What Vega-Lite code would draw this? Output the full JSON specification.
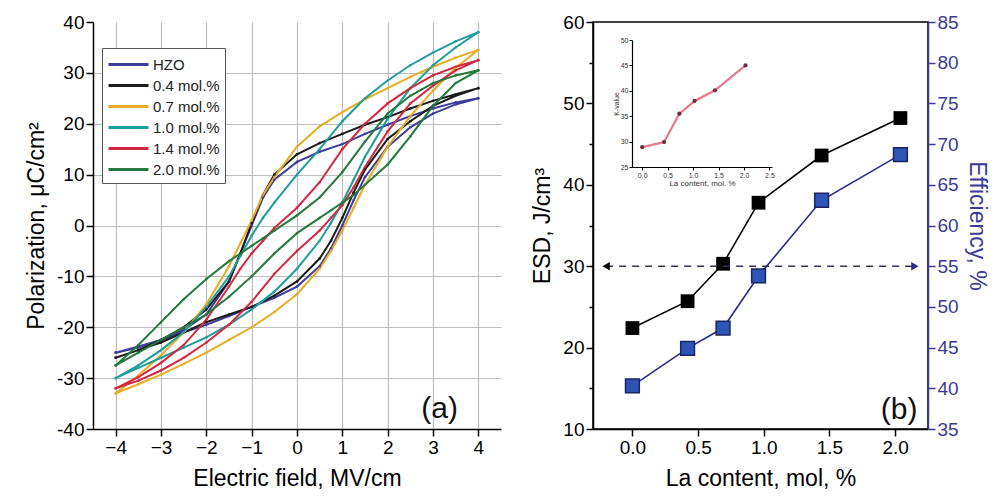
{
"$schema": "https://vega.github.io/schema/vega-lite/v6.json",
"padding": {"left": 25, "top": 12, "right": 2, "bottom": 2},
"spacing": 30,
"config": {
  "font": "Liberation Sans",
  "view": {"stroke": null},
  "axis": {"domainColor": "black", "domainWidth": 1.5, "tickColor": "black", "tickWidth": 1.5, "labelColor": "black", "labelFontSize": 19, "titleFontSize": 23, "titleFontWeight": "normal", "titleColor": "black", "labelPadding": 2, "grid": false, "labelFont": "Liberation Sans", "titleFont": "Liberation Sans"}
},
"datasets": {
"loops": [
{"s":"HZO","o":0,"E":-4,"P":-25},{"s":"HZO","o":1,"E":-3.5,"P":-23.8},{"s":"HZO","o":2,"E":-3,"P":-22.5},{"s":"HZO","o":3,"E":-2.5,"P":-21},{"s":"HZO","o":4,"E":-2,"P":-19.5},{"s":"HZO","o":5,"E":-1.5,"P":-17.8},{"s":"HZO","o":6,"E":-1,"P":-16},{"s":"HZO","o":7,"E":-0.5,"P":-14.2},{"s":"HZO","o":8,"E":0,"P":-12},{"s":"HZO","o":9,"E":0.5,"P":-8},{"s":"HZO","o":10,"E":0.75,"P":-4.5},{"s":"HZO","o":11,"E":1,"P":0},{"s":"HZO","o":12,"E":1.25,"P":5},{"s":"HZO","o":13,"E":1.5,"P":9.5},{"s":"HZO","o":14,"E":2,"P":15.5},{"s":"HZO","o":15,"E":2.5,"P":19.3},{"s":"HZO","o":16,"E":3,"P":22},{"s":"HZO","o":17,"E":3.5,"P":23.8},{"s":"HZO","o":18,"E":4,"P":25},
{"s":"HZO","o":19,"E":4,"P":25},{"s":"HZO","o":20,"E":3.5,"P":24.2},{"s":"HZO","o":21,"E":3,"P":23},{"s":"HZO","o":22,"E":2.5,"P":21.5},{"s":"HZO","o":23,"E":2,"P":19.8},{"s":"HZO","o":24,"E":1.5,"P":18},{"s":"HZO","o":25,"E":1,"P":16},{"s":"HZO","o":26,"E":0.5,"P":14.5},{"s":"HZO","o":27,"E":0,"P":12.5},{"s":"HZO","o":28,"E":-0.5,"P":9},{"s":"HZO","o":29,"E":-0.75,"P":5.5},{"s":"HZO","o":30,"E":-1,"P":0},{"s":"HZO","o":31,"E":-1.25,"P":-5.5},{"s":"HZO","o":32,"E":-1.5,"P":-11},{"s":"HZO","o":33,"E":-2,"P":-17.5},{"s":"HZO","o":34,"E":-2.5,"P":-20.5},{"s":"HZO","o":35,"E":-3,"P":-22.5},{"s":"HZO","o":36,"E":-3.5,"P":-24},{"s":"HZO","o":37,"E":-4,"P":-25},
{"s":"0.4 mol.%","o":0,"E":-4,"P":-26},{"s":"0.4 mol.%","o":1,"E":-3.5,"P":-24.5},{"s":"0.4 mol.%","o":2,"E":-3,"P":-23},{"s":"0.4 mol.%","o":3,"E":-2.5,"P":-21},{"s":"0.4 mol.%","o":4,"E":-2,"P":-19},{"s":"0.4 mol.%","o":5,"E":-1.5,"P":-17.5},{"s":"0.4 mol.%","o":6,"E":-1,"P":-16},{"s":"0.4 mol.%","o":7,"E":-0.5,"P":-13.8},{"s":"0.4 mol.%","o":8,"E":0,"P":-11},{"s":"0.4 mol.%","o":9,"E":0.5,"P":-6.5},{"s":"0.4 mol.%","o":10,"E":0.75,"P":-3},{"s":"0.4 mol.%","o":11,"E":1,"P":1.5},{"s":"0.4 mol.%","o":12,"E":1.25,"P":6.5},{"s":"0.4 mol.%","o":13,"E":1.5,"P":11},{"s":"0.4 mol.%","o":14,"E":2,"P":17},{"s":"0.4 mol.%","o":15,"E":2.5,"P":20.5},{"s":"0.4 mol.%","o":16,"E":3,"P":23.5},{"s":"0.4 mol.%","o":17,"E":3.5,"P":25.5},{"s":"0.4 mol.%","o":18,"E":4,"P":27},
{"s":"0.4 mol.%","o":19,"E":4,"P":27},{"s":"0.4 mol.%","o":20,"E":3.5,"P":25.8},{"s":"0.4 mol.%","o":21,"E":3,"P":24.5},{"s":"0.4 mol.%","o":22,"E":2.5,"P":23},{"s":"0.4 mol.%","o":23,"E":2,"P":21.3},{"s":"0.4 mol.%","o":24,"E":1.5,"P":19.8},{"s":"0.4 mol.%","o":25,"E":1,"P":18},{"s":"0.4 mol.%","o":26,"E":0.5,"P":16.2},{"s":"0.4 mol.%","o":27,"E":0,"P":14},{"s":"0.4 mol.%","o":28,"E":-0.5,"P":10},{"s":"0.4 mol.%","o":29,"E":-0.75,"P":6},{"s":"0.4 mol.%","o":30,"E":-1,"P":0.5},{"s":"0.4 mol.%","o":31,"E":-1.25,"P":-5.5},{"s":"0.4 mol.%","o":32,"E":-1.5,"P":-11},{"s":"0.4 mol.%","o":33,"E":-2,"P":-16.5},{"s":"0.4 mol.%","o":34,"E":-2.5,"P":-20},{"s":"0.4 mol.%","o":35,"E":-3,"P":-22.5},{"s":"0.4 mol.%","o":36,"E":-3.5,"P":-24.5},{"s":"0.4 mol.%","o":37,"E":-4,"P":-26},
{"s":"0.7 mol.%","o":0,"E":-4,"P":-33},{"s":"0.7 mol.%","o":1,"E":-3.5,"P":-31.2},{"s":"0.7 mol.%","o":2,"E":-3,"P":-29.3},{"s":"0.7 mol.%","o":3,"E":-2.5,"P":-27.2},{"s":"0.7 mol.%","o":4,"E":-2,"P":-25},{"s":"0.7 mol.%","o":5,"E":-1.5,"P":-22.5},{"s":"0.7 mol.%","o":6,"E":-1,"P":-20},{"s":"0.7 mol.%","o":7,"E":-0.5,"P":-17},{"s":"0.7 mol.%","o":8,"E":0,"P":-13.5},{"s":"0.7 mol.%","o":9,"E":0.5,"P":-8.5},{"s":"0.7 mol.%","o":10,"E":0.75,"P":-5},{"s":"0.7 mol.%","o":11,"E":1,"P":-1},{"s":"0.7 mol.%","o":12,"E":1.25,"P":3.5},{"s":"0.7 mol.%","o":13,"E":1.5,"P":8},{"s":"0.7 mol.%","o":14,"E":2,"P":15.5},{"s":"0.7 mol.%","o":15,"E":2.5,"P":21.5},{"s":"0.7 mol.%","o":16,"E":3,"P":26.5},{"s":"0.7 mol.%","o":17,"E":3.5,"P":31},{"s":"0.7 mol.%","o":18,"E":4,"P":34.5},
{"s":"0.7 mol.%","o":19,"E":4,"P":34.5},{"s":"0.7 mol.%","o":20,"E":3.5,"P":33},{"s":"0.7 mol.%","o":21,"E":3,"P":31.2},{"s":"0.7 mol.%","o":22,"E":2.5,"P":29.2},{"s":"0.7 mol.%","o":23,"E":2,"P":27},{"s":"0.7 mol.%","o":24,"E":1.5,"P":24.8},{"s":"0.7 mol.%","o":25,"E":1,"P":22.3},{"s":"0.7 mol.%","o":26,"E":0.5,"P":19.5},{"s":"0.7 mol.%","o":27,"E":0,"P":15.5},{"s":"0.7 mol.%","o":28,"E":-0.5,"P":9.5},{"s":"0.7 mol.%","o":29,"E":-0.75,"P":6},{"s":"0.7 mol.%","o":30,"E":-1,"P":1},{"s":"0.7 mol.%","o":31,"E":-1.25,"P":-3.5},{"s":"0.7 mol.%","o":32,"E":-1.5,"P":-8},{"s":"0.7 mol.%","o":33,"E":-2,"P":-15.5},{"s":"0.7 mol.%","o":34,"E":-2.5,"P":-21},{"s":"0.7 mol.%","o":35,"E":-3,"P":-25.5},{"s":"0.7 mol.%","o":36,"E":-3.5,"P":-29.5},{"s":"0.7 mol.%","o":37,"E":-4,"P":-33},
{"s":"1.0 mol.%","o":0,"E":-4,"P":-30},{"s":"1.0 mol.%","o":1,"E":-3.5,"P":-28},{"s":"1.0 mol.%","o":2,"E":-3,"P":-26},{"s":"1.0 mol.%","o":3,"E":-2.5,"P":-24},{"s":"1.0 mol.%","o":4,"E":-2,"P":-22},{"s":"1.0 mol.%","o":5,"E":-1.5,"P":-19.5},{"s":"1.0 mol.%","o":6,"E":-1,"P":-16.5},{"s":"1.0 mol.%","o":7,"E":-0.5,"P":-13},{"s":"1.0 mol.%","o":8,"E":0,"P":-8.5},{"s":"1.0 mol.%","o":9,"E":0.5,"P":-3},{"s":"1.0 mol.%","o":10,"E":0.75,"P":0.5},{"s":"1.0 mol.%","o":11,"E":1,"P":4.5},{"s":"1.0 mol.%","o":12,"E":1.25,"P":9},{"s":"1.0 mol.%","o":13,"E":1.5,"P":13.5},{"s":"1.0 mol.%","o":14,"E":2,"P":21},{"s":"1.0 mol.%","o":15,"E":2.5,"P":27},{"s":"1.0 mol.%","o":16,"E":3,"P":31.5},{"s":"1.0 mol.%","o":17,"E":3.5,"P":35},{"s":"1.0 mol.%","o":18,"E":4,"P":38},
{"s":"1.0 mol.%","o":19,"E":4,"P":38},{"s":"1.0 mol.%","o":20,"E":3.5,"P":36.2},{"s":"1.0 mol.%","o":21,"E":3,"P":34},{"s":"1.0 mol.%","o":22,"E":2.5,"P":31.5},{"s":"1.0 mol.%","o":23,"E":2,"P":28.5},{"s":"1.0 mol.%","o":24,"E":1.5,"P":25},{"s":"1.0 mol.%","o":25,"E":1,"P":20.5},{"s":"1.0 mol.%","o":26,"E":0.5,"P":15},{"s":"1.0 mol.%","o":27,"E":0,"P":10},{"s":"1.0 mol.%","o":28,"E":-0.5,"P":4.5},{"s":"1.0 mol.%","o":29,"E":-0.75,"P":1.5},{"s":"1.0 mol.%","o":30,"E":-1,"P":-2},{"s":"1.0 mol.%","o":31,"E":-1.25,"P":-6},{"s":"1.0 mol.%","o":32,"E":-1.5,"P":-10},{"s":"1.0 mol.%","o":33,"E":-2,"P":-16},{"s":"1.0 mol.%","o":34,"E":-2.5,"P":-21},{"s":"1.0 mol.%","o":35,"E":-3,"P":-24.5},{"s":"1.0 mol.%","o":36,"E":-3.5,"P":-27.5},{"s":"1.0 mol.%","o":37,"E":-4,"P":-30},
{"s":"1.4 mol.%","o":0,"E":-4,"P":-32},{"s":"1.4 mol.%","o":1,"E":-3.5,"P":-30.5},{"s":"1.4 mol.%","o":2,"E":-3,"P":-28.5},{"s":"1.4 mol.%","o":3,"E":-2.5,"P":-26},{"s":"1.4 mol.%","o":4,"E":-2,"P":-23},{"s":"1.4 mol.%","o":5,"E":-1.5,"P":-19.5},{"s":"1.4 mol.%","o":6,"E":-1,"P":-15},{"s":"1.4 mol.%","o":7,"E":-0.5,"P":-9.5},{"s":"1.4 mol.%","o":8,"E":0,"P":-5},{"s":"1.4 mol.%","o":9,"E":0.5,"P":-1},{"s":"1.4 mol.%","o":10,"E":0.75,"P":1.5},{"s":"1.4 mol.%","o":11,"E":1,"P":4},{"s":"1.4 mol.%","o":12,"E":1.25,"P":7.5},{"s":"1.4 mol.%","o":13,"E":1.5,"P":11.5},{"s":"1.4 mol.%","o":14,"E":2,"P":18.5},{"s":"1.4 mol.%","o":15,"E":2.5,"P":24},{"s":"1.4 mol.%","o":16,"E":3,"P":27.5},{"s":"1.4 mol.%","o":17,"E":3.5,"P":30.5},{"s":"1.4 mol.%","o":18,"E":4,"P":32.5},
{"s":"1.4 mol.%","o":19,"E":4,"P":32.5},{"s":"1.4 mol.%","o":20,"E":3.5,"P":31.2},{"s":"1.4 mol.%","o":21,"E":3,"P":29.5},{"s":"1.4 mol.%","o":22,"E":2.5,"P":27},{"s":"1.4 mol.%","o":23,"E":2,"P":24},{"s":"1.4 mol.%","o":24,"E":1.5,"P":20},{"s":"1.4 mol.%","o":25,"E":1,"P":15},{"s":"1.4 mol.%","o":26,"E":0.5,"P":8.5},{"s":"1.4 mol.%","o":27,"E":0,"P":3.5},{"s":"1.4 mol.%","o":28,"E":-0.5,"P":-0.5},{"s":"1.4 mol.%","o":29,"E":-0.75,"P":-3},{"s":"1.4 mol.%","o":30,"E":-1,"P":-5.5},{"s":"1.4 mol.%","o":31,"E":-1.25,"P":-8.5},{"s":"1.4 mol.%","o":32,"E":-1.5,"P":-12},{"s":"1.4 mol.%","o":33,"E":-2,"P":-18.5},{"s":"1.4 mol.%","o":34,"E":-2.5,"P":-23.5},{"s":"1.4 mol.%","o":35,"E":-3,"P":-27},{"s":"1.4 mol.%","o":36,"E":-3.5,"P":-29.8},{"s":"1.4 mol.%","o":37,"E":-4,"P":-32},
{"s":"2.0 mol.%","o":0,"E":-4,"P":-27.5},{"s":"2.0 mol.%","o":1,"E":-3.5,"P":-25},{"s":"2.0 mol.%","o":2,"E":-3,"P":-22.5},{"s":"2.0 mol.%","o":3,"E":-2.5,"P":-20},{"s":"2.0 mol.%","o":4,"E":-2,"P":-17.5},{"s":"2.0 mol.%","o":5,"E":-1.5,"P":-14},{"s":"2.0 mol.%","o":6,"E":-1,"P":-10},{"s":"2.0 mol.%","o":7,"E":-0.5,"P":-5.5},{"s":"2.0 mol.%","o":8,"E":0,"P":-1.5},{"s":"2.0 mol.%","o":9,"E":0.5,"P":1.5},{"s":"2.0 mol.%","o":10,"E":0.75,"P":3},{"s":"2.0 mol.%","o":11,"E":1,"P":4.5},{"s":"2.0 mol.%","o":12,"E":1.25,"P":6},{"s":"2.0 mol.%","o":13,"E":1.5,"P":8},{"s":"2.0 mol.%","o":14,"E":2,"P":12},{"s":"2.0 mol.%","o":15,"E":2.5,"P":17.5},{"s":"2.0 mol.%","o":16,"E":3,"P":23.5},{"s":"2.0 mol.%","o":17,"E":3.5,"P":28},{"s":"2.0 mol.%","o":18,"E":4,"P":30.5},
{"s":"2.0 mol.%","o":19,"E":4,"P":30.5},{"s":"2.0 mol.%","o":20,"E":3.5,"P":29.5},{"s":"2.0 mol.%","o":21,"E":3,"P":28},{"s":"2.0 mol.%","o":22,"E":2.5,"P":25.5},{"s":"2.0 mol.%","o":23,"E":2,"P":22},{"s":"2.0 mol.%","o":24,"E":1.5,"P":16.5},{"s":"2.0 mol.%","o":25,"E":1,"P":10.5},{"s":"2.0 mol.%","o":26,"E":0.5,"P":5.5},{"s":"2.0 mol.%","o":27,"E":0,"P":2},{"s":"2.0 mol.%","o":28,"E":-0.5,"P":-1},{"s":"2.0 mol.%","o":29,"E":-0.75,"P":-2.5},{"s":"2.0 mol.%","o":30,"E":-1,"P":-4},{"s":"2.0 mol.%","o":31,"E":-1.25,"P":-5.5},{"s":"2.0 mol.%","o":32,"E":-1.5,"P":-7},{"s":"2.0 mol.%","o":33,"E":-2,"P":-10.5},{"s":"2.0 mol.%","o":34,"E":-2.5,"P":-14.5},{"s":"2.0 mol.%","o":35,"E":-3,"P":-19},{"s":"2.0 mol.%","o":36,"E":-3.5,"P":-23.5},{"s":"2.0 mol.%","o":37,"E":-4,"P":-27.5}
],
"esd": [
{"La":0,"ESD":22.4,"Eff":40.3},{"La":0.42,"ESD":25.7,"Eff":44.9},{"La":0.69,"ESD":30.3,"Eff":47.4},{"La":0.96,"ESD":37.8,"Eff":53.8},{"La":1.44,"ESD":43.6,"Eff":63.1},{"La":2.04,"ESD":48.2,"Eff":68.7}
],
"inset": [
{"La":0,"K":28.9},{"La":0.43,"K":29.9},{"La":0.73,"K":35.5},{"La":1.03,"K":38},{"La":1.43,"K":40.1},{"La":2.03,"K":45}
]
},
"hconcat": [
{
  "width": 408, "height": 407,
  "data": {"name": "loops"},
  "layer": [
    {
      "mark": {"type": "line", "strokeWidth": 2, "interpolate": "linear"},
      "encoding": {
        "x": {"field": "E", "type": "quantitative", "scale": {"domain": [-4.5, 4.5], "nice": false},
          "axis": {"title": "Electric field, MV/cm", "values": [-4,-3,-2,-1,0,1,2,3,4], "format": "d", "tickSize": 7, "titlePadding": 10,
            "grid": true, "gridColor": "#bdbdbd", "gridWidth": 1.2}},
        "y": {"field": "P", "type": "quantitative", "scale": {"domain": [-40, 40], "nice": false},
          "axis": {"title": "Polarization, μC/cm²", "values": [-40,-35,-30,-25,-20,-15,-10,-5,0,5,10,15,20,25,30,35,40],
            "labelOverlap": false,
            "labelExpr": "datum.value % 10 === 0 ? '' + datum.value : ''",
            "tickSize": {"condition": {"test": "datum.value % 10 === 0", "value": 7}, "value": 4},
            "grid": true, "gridColor": "#bdbdbd", "gridWidth": 1.2,
            "gridOpacity": {"condition": {"test": "datum.value % 10 === 0 && abs(datum.value) < 40", "value": 1}, "value": 0},
            "titlePadding": 8}},
        "color": {"field": "s", "type": "nominal",
          "scale": {"domain": ["HZO","0.4 mol.%","0.7 mol.%","1.0 mol.%","1.4 mol.%","2.0 mol.%"],
                    "range": ["#3d3d9c","#1a1a1a","#e8ad22","#1f9d9a","#d42840","#237a3c"]},
          "legend": {"orient": "none", "legendX": 9, "legendY": 26, "title": null, "symbolType": "M-1,0H3", "symbolStrokeWidth": 3, "symbolSize": 400, "labelFontSize": 15, "labelFont": "Liberation Sans", "labelColor": "#222", "strokeColor": "#555", "fillColor": "white", "padding": 5, "rowPadding": 1, "labelOffset": 23}},
        "order": {"field": "o", "type": "quantitative"}
      }
    },
    {
      "mark": {"type": "point", "filled": true, "size": 7, "opacity": 0.9},
      "encoding": {
        "x": {"field": "E", "type": "quantitative"},
        "y": {"field": "P", "type": "quantitative"},
        "color": {"field": "s", "type": "nominal", "legend": null}
      }
    },
    {
      "data": {"values": [{"label": "(a)", "E": 3.55, "P": -36}]},
      "mark": {"type": "text", "align": "right", "baseline": "middle", "fontSize": 30, "color": "#111"},
      "encoding": {
        "x": {"field": "E", "type": "quantitative"},
        "y": {"field": "P", "type": "quantitative"},
        "text": {"field": "label"}
      }
    }
  ]
},
{
  "width": 335, "height": 407,
  "view": {"stroke": "black", "strokeWidth": 1.5},
  "layer": [
    {
      "layer": [
        {
          "layer": [
            {
              "data": {"name": "esd"},
              "mark": {"type": "line", "color": "black", "strokeWidth": 1.6},
              "encoding": {
                "x": {"field": "La", "type": "quantitative", "scale": {"domain": [-0.3, 2.25], "nice": false},
                  "axis": {"title": "La content, mol, %", "values": [0,0.5,1,1.5,2], "format": ".1f", "tickSize": 7, "titlePadding": 10}},
                "y": {"field": "ESD", "type": "quantitative", "scale": {"domain": [10, 60], "nice": false},
                  "axis": {"title": "ESD, J/cm³", "values": [10,15,20,25,30,35,40,45,50,55,60],
                    "labelOverlap": false,
                    "labelExpr": "datum.value % 10 === 0 ? '' + datum.value : ''",
                    "tickSize": {"condition": {"test": "datum.value % 10 === 0", "value": 7}, "value": 4},
                    "titlePadding": 8}}
              }
            },
            {
              "data": {"name": "esd"},
              "mark": {"type": "square", "color": "black", "size": 190, "opacity": 1},
              "encoding": {
                "x": {"field": "La", "type": "quantitative"},
                "y": {"field": "ESD", "type": "quantitative"}
              }
            },
            {
              "data": {"values": [{"x1": -0.2, "x2": 2.15, "y": 30}]},
              "mark": {"type": "rule", "color": "#333355", "strokeWidth": 1.5, "strokeDash": [7, 6]},
              "encoding": {
                "x": {"field": "x1", "type": "quantitative"},
                "x2": {"field": "x2"},
                "y": {"field": "y", "type": "quantitative"}
              }
            },
            {
              "data": {"values": [{"x": -0.2, "y": 30}]},
              "mark": {"type": "point", "shape": "triangle-left", "filled": true, "size": 70, "color": "black", "opacity": 1},
              "encoding": {
                "x": {"field": "x", "type": "quantitative"},
                "y": {"field": "y", "type": "quantitative"}
              }
            },
            {
              "data": {"values": [{"x": 2.15, "y": 30}]},
              "mark": {"type": "point", "shape": "triangle-right", "filled": true, "size": 70, "color": "#2a2a80", "opacity": 1},
              "encoding": {
                "x": {"field": "x", "type": "quantitative"},
                "y": {"field": "y", "type": "quantitative"}
              }
            },
            {
              "data": {"values": [{"label": "(b)", "x": 2.17, "y": 12.3}]},
              "mark": {"type": "text", "align": "right", "baseline": "middle", "fontSize": 30, "color": "#111"},
              "encoding": {
                "x": {"field": "x", "type": "quantitative"},
                "y": {"field": "y", "type": "quantitative"},
                "text": {"field": "label"}
              }
            }
          ]
        },
        {
          "data": {"name": "esd"},
          "layer": [
            {
              "mark": {"type": "line", "color": "#2b2b8a", "strokeWidth": 1.6},
              "encoding": {
                "x": {"field": "La", "type": "quantitative"},
                "y": {"field": "Eff", "type": "quantitative", "scale": {"domain": [35, 85], "nice": false},
                  "axis": {"orient": "right", "title": "Efficiency, %", "titleColor": "#3a3a96", "labelColor": "#3a3a96", "domainColor": "#3a3a96", "tickColor": "#3a3a96",
                    "values": [35,37.5,40,42.5,45,47.5,50,52.5,55,57.5,60,62.5,65,67.5,70,72.5,75,77.5,80,82.5,85],
                    "labelOverlap": false,
                    "labelExpr": "datum.value % 5 === 0 ? '' + datum.value : ''",
                    "tickSize": {"condition": {"test": "datum.value % 5 === 0", "value": 7}, "value": 4},
                    "titlePadding": 6}}
              }
            },
            {
              "mark": {"type": "square", "color": "#2d55b5", "size": 190, "opacity": 1, "stroke": "#1a2466", "strokeWidth": 1.5},
              "encoding": {
                "x": {"field": "La", "type": "quantitative"},
                "y": {"field": "Eff", "type": "quantitative"}
              }
            }
          ]
        }
      ],
      "resolve": {"scale": {"y": "independent"}}
    },
    {
      "data": {"name": "inset"},
      "layer": [
        {
          "mark": {"type": "line", "color": "#e8788a", "strokeWidth": 2.2},
          "encoding": {
            "x": {"field": "La", "type": "quantitative", "scale": {"domain": [-0.2, 2.55], "nice": false, "range": [39, 179]},
              "axis": {"orient": "bottom", "offset": -262, "title": "La content, mol. %", "values": [0,0.5,1,1.5,2,2.5], "format": ".1f", "labelOverlap": false,
                "labelFontSize": 7, "titleFontSize": 8, "tickSize": 3, "tickWidth": 1, "domainWidth": 1.2, "labelPadding": 1, "titlePadding": 1, "labelColor": "#333", "titleColor": "#333"}},
            "y": {"field": "K", "type": "quantitative", "scale": {"domain": [25, 50], "nice": false, "range": [145, 18]},
              "axis": {"orient": "left", "offset": -39, "title": "K-value", "values": [25,30,35,40,45,50],
                "labelFontSize": 7, "titleFontSize": 7, "tickSize": 3, "tickWidth": 1, "domainWidth": 1.2, "labelPadding": 1, "titlePadding": 1, "labelColor": "#333", "titleColor": "#333"}}
          }
        },
        {
          "mark": {"type": "point", "filled": true, "size": 18, "color": "#6a3040", "opacity": 1},
          "encoding": {
            "x": {"field": "La", "type": "quantitative", "scale": {"domain": [-0.2, 2.55], "nice": false, "range": [39, 179]}},
            "y": {"field": "K", "type": "quantitative", "scale": {"domain": [25, 50], "nice": false, "range": [145, 18]}}
          }
        }
      ]
    }
  ],
  "resolve": {"scale": {"x": "independent", "y": "independent"}}
}
]
}
